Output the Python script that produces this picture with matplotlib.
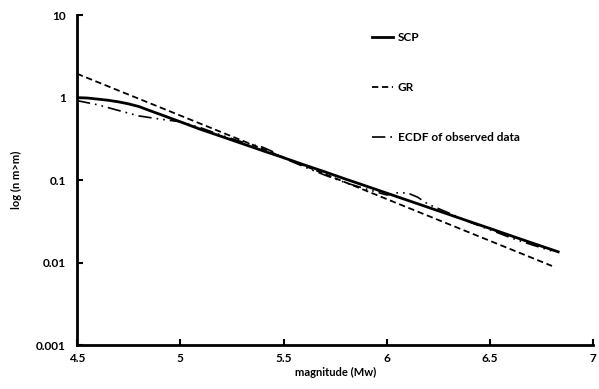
import matplotlib
matplotlib.use("Agg")
import matplotlib.pyplot as plt

plt.rcParams["font.family"] = ["Lato", "DejaVu Sans"]
plt.rcParams["font.weight"] = "bold"

# SCP model curve
scp_m = [4.5, 4.55, 4.6, 4.65, 4.7, 4.75, 4.8, 4.85, 4.9, 5.0, 5.1, 5.2, 5.3, 5.4,
         5.5, 5.6, 5.7, 5.8, 5.9, 6.0, 6.1, 6.2, 6.3, 6.4, 6.5, 6.6, 6.7, 6.83]
scp_n = [1.0, 0.99, 0.96, 0.93, 0.89, 0.84, 0.78, 0.70, 0.63, 0.51, 0.411, 0.338,
         0.277, 0.227, 0.187, 0.153, 0.126, 0.103, 0.0847, 0.0695, 0.057, 0.0468,
         0.0384, 0.0315, 0.0259, 0.0212, 0.0174, 0.0135]

# Gutenberg-Richter line
gr_m = [4.5, 6.8]
gr_n = [1.95, 0.0091]

# ECDF of observed data
ecdf_m = [4.5, 4.6, 4.7, 4.8, 4.9, 5.0, 5.1, 5.2, 5.3, 5.4, 5.45, 5.5, 5.6, 5.7,
          5.8, 5.9, 6.0, 6.05, 6.1, 6.15, 6.2, 6.3, 6.4, 6.5, 6.6, 6.7, 6.8]
ecdf_n = [0.92, 0.82, 0.70, 0.60, 0.55, 0.51, 0.43, 0.35, 0.29, 0.25, 0.22, 0.185,
          0.145, 0.115, 0.093, 0.078, 0.066, 0.07, 0.07, 0.062, 0.051, 0.04,
          0.031, 0.025, 0.02, 0.0165, 0.0138]

x_ticks = [4.5, 5, 5.5, 6, 6.5, 7]
x_labels = ["4.5", "5", "5.5", "6", "6.5", "7"]
y_ticks = [0.001, 0.01, 0.1, 1, 10]
y_labels = ["0.001", "0.01", "0.1", "1", "10"]

fig = plt.figure(figsize=(5.99, 3.89), dpi=100)
ax = fig.add_axes([0.1285, 0.113, 0.862, 0.848])

ax.plot(scp_m, scp_n, color="black", linewidth=2.0, label="SCP")
ax.plot(gr_m, gr_n, color="black", linewidth=1.3, linestyle=(0, (3.5, 2)), label="GR")
ax.plot(ecdf_m, ecdf_n, color="black", linewidth=1.2,
        linestyle=(0, (8, 3, 1, 3, 1, 3)), label="ECDF of observed data")

ax.set_yscale("log")
ax.set_xlim(4.5, 7)
ax.set_ylim(0.001, 10)
ax.set_xticks(x_ticks)
ax.set_xticklabels(x_labels)
ax.set_yticks(y_ticks)
ax.set_yticklabels(y_labels)
ax.minorticks_off()
ax.tick_params(axis="both", direction="in", length=4, width=1.5, labelsize=8.5, pad=8)
ax.tick_params(axis="x", pad=6)

for side in ["top", "right"]:
    ax.spines[side].set_visible(False)
for side in ["left", "bottom"]:
    ax.spines[side].set_linewidth(2.0)

ax.set_xlabel("magnitude (Mw)", fontsize=8, fontweight="bold", labelpad=2)
ax.set_ylabel("log (n m>m)", fontsize=8, fontweight="bold", labelpad=10)

ax.legend(loc="upper left", bbox_to_anchor=(0.55, 0.98), frameon=False,
          fontsize=8.5, labelspacing=3.3, handlelength=1.8, handletextpad=0.4)

fig.savefig("out.png", dpi=100)
